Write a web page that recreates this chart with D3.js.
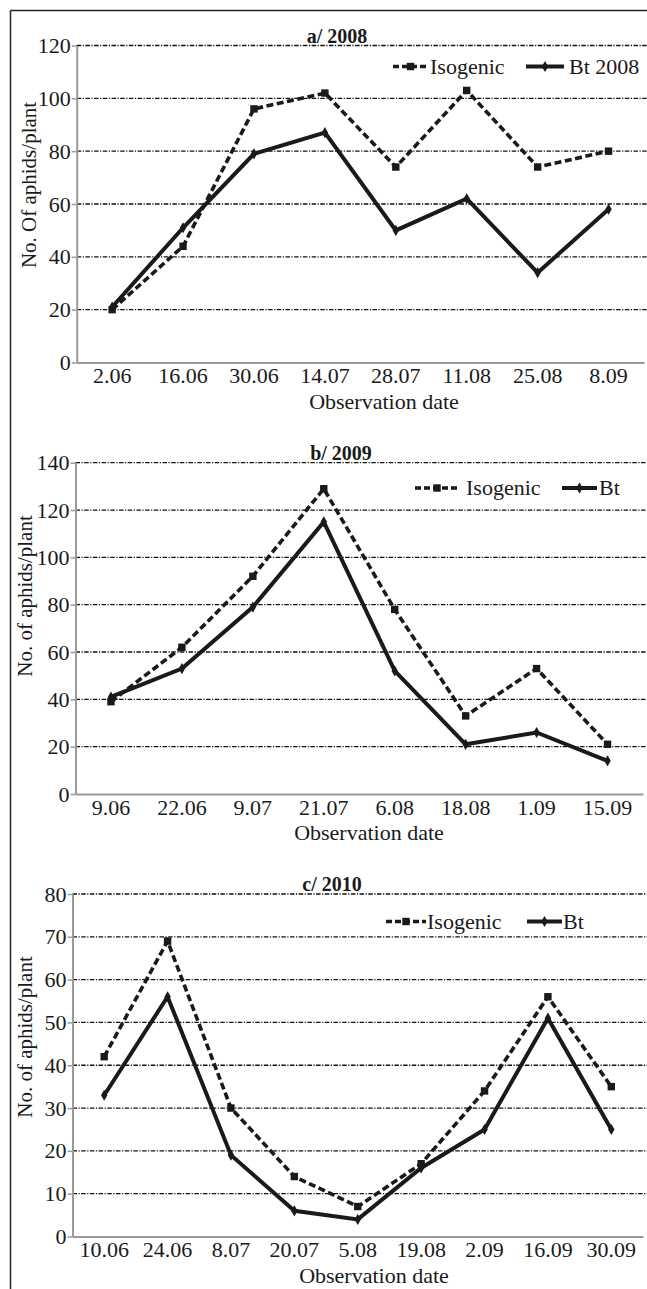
<!DOCTYPE html>
<html>
<head>
<meta charset="utf-8">
<script src="https://cdn.jsdelivr.net/npm/d3@7"></script>
<style>
  body { margin: 0; background: #fff; }
  text { font-family: "Liberation Serif", "DejaVu Serif", serif; fill: #1a1a1a; }
</style>
</head>
<body>
<svg id="chart" width="647" height="1289"></svg>
<script>
// a/ 2008
const datesA = ["2.06", "16.06", "30.06", "14.07", "28.07", "11.08", "25.08", "8.09"];
const isoA = [20, 44, 96, 102, 74, 103, 74, 80];
const btA = [21, 51, 79, 87, 50, 62, 34, 58];
const ticksA = [0, 20, 40, 60, 80, 100, 120];

// b/ 2009
const datesB = ["9.06", "22.06", "9.07", "21.07", "6.08", "18.08", "1.09", "15.09"];
const isoB = [39, 62, 92, 129, 78, 33, 53, 21];
const btB = [41, 53, 79, 115, 52, 21, 26, 14];
const ticksB = [0, 20, 40, 60, 80, 100, 120, 140];

// c/ 2010
const datesC = ["10.06", "24.06", "8.07", "20.07", "5.08", "19.08", "2.09", "16.09", "30.09"];
const isoC = [42, 69, 30, 14, 7, 17, 34, 56, 35];
const btC = [33, 56, 19, 6, 4, 16, 25, 51, 25];
const ticksC = [0, 10, 20, 30, 40, 50, 60, 70, 80];

const svg = d3.select("#chart");
const ink = "#1a1a1a";

// outer frame (top and left edges only are visible)
svg.append("line").attr("x1", 10.5).attr("x2", 647).attr("y1", 10.5).attr("y2", 10.5)
  .attr("stroke", "#222").attr("stroke-width", 1.5);
svg.append("line").attr("x1", 10.5).attr("x2", 10.5).attr("y1", 10.5).attr("y2", 1289)
  .attr("stroke", "#222").attr("stroke-width", 1.5);

function panel(p) {
  const g = svg.append("g");
  const x = d3.scaleBand().domain(p.dates).range(p.xRange);
  const y = d3.scaleLinear().domain([0, d3.max(p.ticks)]).range(p.yRange);
  const cx = d => x(d) + x.bandwidth() / 2;

  // dash-dot gridlines
  g.selectAll(".grid")
    .data(p.ticks.filter(t => t > 0))
    .join("line")
    .attr("x1", p.xRange[0]).attr("x2", 647)
    .attr("y1", d => y(d)).attr("y2", d => y(d))
    .attr("stroke", "#111").attr("stroke-width", 1.3)
    .attr("stroke-dasharray", "4.5,1.5,1.2,1.5");

  // y axis
  const ya = g.append("g")
    .attr("transform", "translate(" + p.xRange[0] + ",0)")
    .call(d3.axisLeft(y).tickValues(p.ticks).tickSize(5).tickSizeOuter(0).tickPadding(1));
  ya.select(".domain").attr("stroke", "#9a9a9a").attr("stroke-width", 2);
  ya.selectAll(".tick line").attr("stroke", "#9a9a9a").attr("stroke-width", 1.5);
  ya.selectAll(".tick text").style("font-size", "22px").attr("fill", ink)
    .style("font-family", "'Liberation Serif', serif");

  // x axis
  const xa = g.append("g")
    .attr("transform", "translate(0," + p.yRange[0] + ")")
    .call(d3.axisBottom(x).tickSize(0).tickPadding(5));
  xa.select(".domain").attr("stroke", "#9a9a9a").attr("stroke-width", 2.2);
  xa.selectAll(".tick text").style("font-size", "22px").attr("fill", ink)
    .style("font-family", "'Liberation Serif', serif");

  const line = d3.line().x((d, i) => cx(p.dates[i])).y(d => y(d));

  // Isogenic: dashed with squares
  g.append("path").datum(p.iso).attr("d", line)
    .attr("fill", "none").attr("stroke", ink).attr("stroke-width", 3.6)
    .attr("stroke-dasharray", "7,3.5");
  g.selectAll(".sq").data(p.iso).join("path")
    .attr("transform", (d, i) => "translate(" + cx(p.dates[i]) + "," + y(d) + ")")
    .attr("d", d3.symbol(d3.symbolSquare, 55)).attr("fill", ink);

  // Bt: solid with small diamonds
  g.append("path").datum(p.bt).attr("d", line)
    .attr("fill", "none").attr("stroke", ink).attr("stroke-width", 4)
    .attr("stroke-linejoin", "miter");
  g.selectAll(".dm").data(p.bt).join("path")
    .attr("transform", (d, i) => "translate(" + cx(p.dates[i]) + "," + y(d) + ")")
    .attr("d", d3.symbol(d3.symbolDiamond, 36)).attr("fill", ink);

  // title
  g.append("text").attr("x", p.titleX).attr("y", p.yRange[1] - 3)
    .attr("text-anchor", "middle").style("font-size", "20px").style("font-weight", "bold")
    .text(p.title);

  // axis titles
  g.append("text").attr("x", p.xTitleX).attr("y", p.yRange[0] + 46)
    .attr("text-anchor", "middle").style("font-size", "22px").text("Observation date");
  g.append("text")
    .attr("transform", "translate(" + p.yTitleX + "," + p.yTitleY + ") rotate(-90)")
    .attr("text-anchor", "middle").style("font-size", "21px").text(p.yTitle);

  // legend
  const L = p.legend;
  g.append("line").attr("x1", L.iso[0]).attr("x2", L.iso[1]).attr("y1", L.y).attr("y2", L.y)
    .attr("stroke", ink).attr("stroke-width", 3.6).attr("stroke-dasharray", "6,3");
  g.append("path").attr("transform", "translate(" + (L.iso[0] + L.iso[1]) / 2 + "," + L.y + ")")
    .attr("d", d3.symbol(d3.symbolSquare, 55)).attr("fill", ink);
  g.append("text").attr("x", L.iso[2]).attr("y", L.y + 7).style("font-size", "22px").text("Isogenic");
  g.append("line").attr("x1", L.bt[0]).attr("x2", L.bt[1]).attr("y1", L.y).attr("y2", L.y)
    .attr("stroke", ink).attr("stroke-width", 4);
  g.append("path").attr("transform", "translate(" + (L.bt[0] + L.bt[1]) / 2 + "," + L.y + ")")
    .attr("d", d3.symbol(d3.symbolDiamond, 36)).attr("fill", ink);
  g.append("text").attr("x", L.bt[2]).attr("y", L.y + 7).style("font-size", "22px").text(p.btLabel);
}

panel({
  dates: datesA, iso: isoA, bt: btA, ticks: ticksA,
  xRange: [76.7, 644], yRange: [362.5, 45.5],
  title: "a/ 2008", titleX: 337, xTitleX: 384,
  yTitle: "No. Of aphids/plant", yTitleX: 36, yTitleY: 185,
  btLabel: "Bt 2008",
  legend: { y: 66.5, iso: [393, 428, 430], bt: [526, 564, 569] }
});

panel({
  dates: datesB, iso: isoB, bt: btB, ticks: ticksB,
  xRange: [75.5, 643], yRange: [794, 462.7],
  title: "b/ 2009", titleX: 341, xTitleX: 369,
  yTitle: "No. of aphids/plant", yTitleX: 32, yTitleY: 596,
  btLabel: "Bt",
  legend: { y: 488, iso: [415, 459, 466], bt: [562, 597, 599] }
});

panel({
  dates: datesC, iso: isoC, bt: btC, ticks: ticksC,
  xRange: [72.5, 643], yRange: [1236.5, 894],
  title: "c/ 2010", titleX: 332, xTitleX: 374,
  yTitle: "No. of aphids/plant", yTitleX: 32, yTitleY: 1037,
  btLabel: "Bt",
  legend: { y: 921.5, iso: [386, 426, 427], bt: [527, 562, 563] }
});
</script>
</body>
</html>
